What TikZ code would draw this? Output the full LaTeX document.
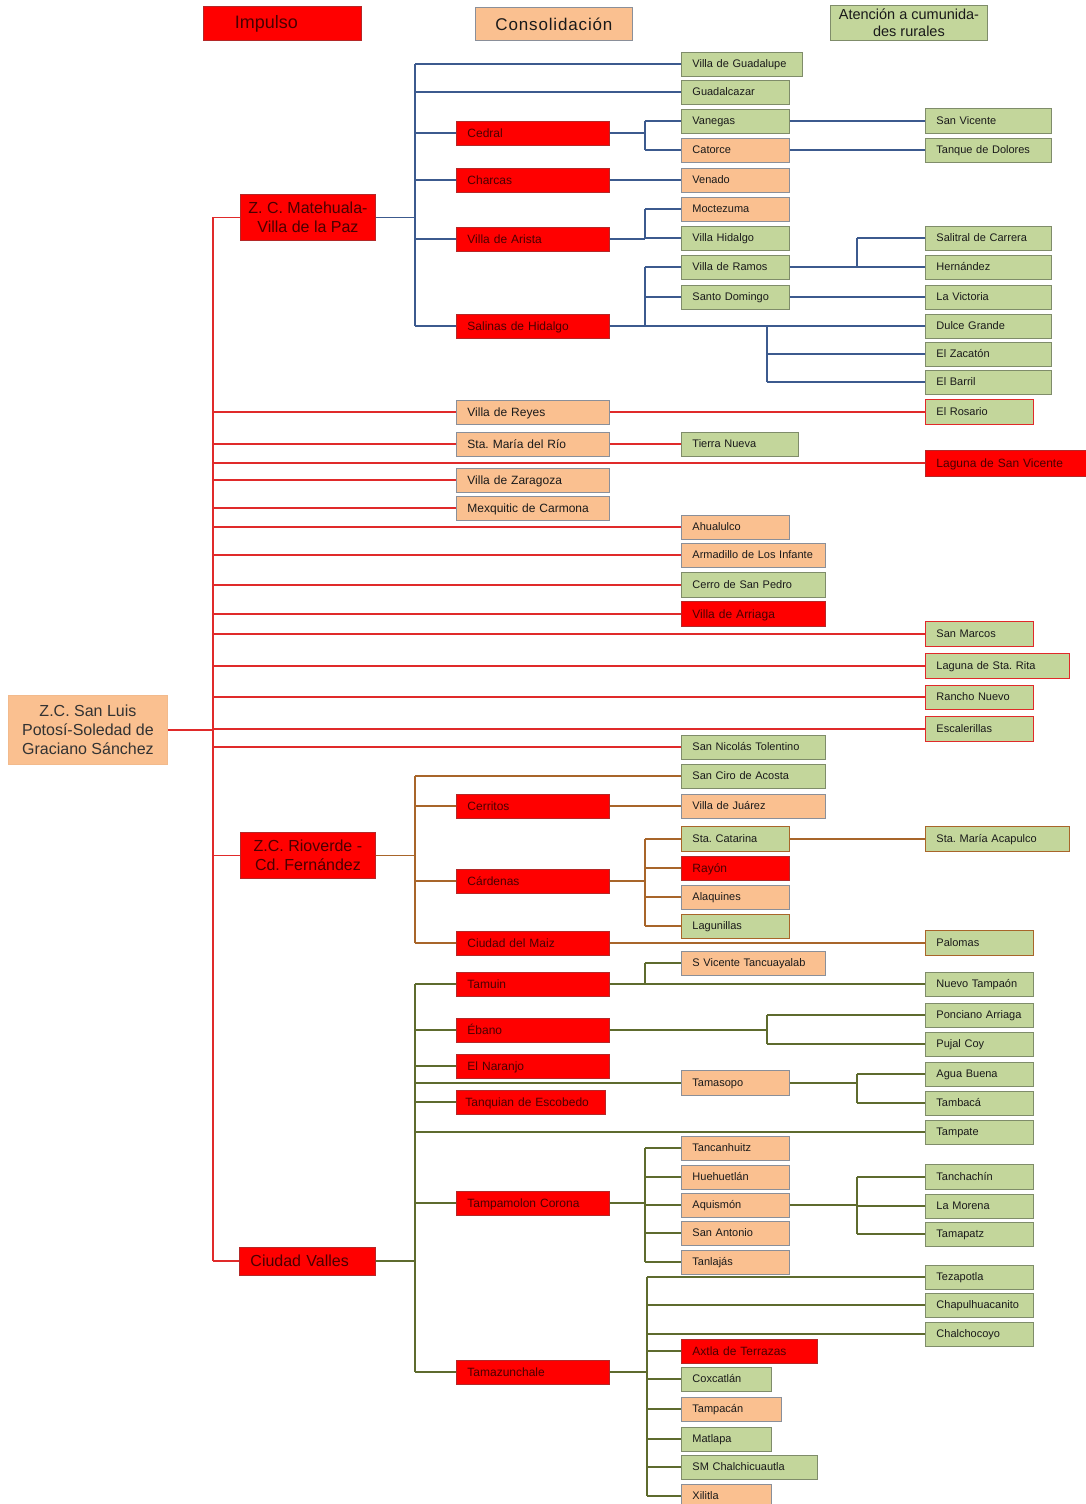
\documentclass[tikz,border=0pt]{standalone}
\usepackage{fontspec}
\setmainfont{Liberation Sans}
\frenchspacing
\definecolor{boxred}{HTML}{FF0000}
\definecolor{boxredd}{HTML}{B42828}
\definecolor{boxor}{HTML}{FAC090}
\definecolor{boxgray}{HTML}{8A8F99}
\definecolor{boxgr}{HTML}{C3D69B}
\definecolor{boxgrd}{HTML}{7F8C6A}
\definecolor{redline}{HTML}{E02A2A}
\definecolor{blueline}{HTML}{3C5A8E}
\definecolor{brownline}{HTML}{A8652A}
\definecolor{oliveline}{HTML}{5E6B2E}
\definecolor{redtxt}{HTML}{4A0000}
\definecolor{darktxt}{HTML}{1A1A1A}
\newcommand\bxn[7]{%
  \pgfmathsetmacro\bxw{#4-#3-22}%
  \node[#2, anchor=west, text width=\bxw pt, minimum height=#6pt] (#1) at (#3,#5) {#7};}
\begin{document}
\begin{tikzpicture}[x=1pt,y=-1pt,
  bx/.style={draw, line width=0.9pt, inner xsep=11pt, inner ysep=0pt, align=left, text=darktxt},
  rd/.style={bx, fill=boxred, draw=boxredd, text=redtxt},
  og/.style={bx, fill=boxor, draw=boxgray},
  gn/.style={bx, fill=boxgr, draw=boxgrd},
  gnr/.style={gn, draw=redline},
  sm/.style={font=\fontsize{11}{13}\selectfont, text height=7.6pt, text depth=0pt},
  md/.style={font=\fontsize{12}{14}\selectfont, text height=8.2pt, text depth=0pt},
  lg/.style={font=\fontsize{16}{19.5}\selectfont},
  rl/.style={draw=redline, line width=1.4pt},
  bl/.style={draw=blueline, line width=1.4pt},
  brl/.style={draw=brownline, line width=1.4pt},
  ol/.style={draw=oliveline, line width=1.4pt}
]
\useasboundingbox (0,0) rectangle (1085,1504);

% headers
\node[rd, anchor=north west, minimum width=158pt, minimum height=34pt, inner xsep=2pt, align=center, font=\fontsize{18}{20}\selectfont] (h1) at (203,6) {Impulso\hspace{32pt}};
\node[og, anchor=north west, minimum width=157pt, minimum height=33pt, inner xsep=2pt, align=center, font=\fontsize{17}{20}\selectfont] (h2) at (475,7) {\addfontfeatures{LetterSpace=5}Consolidación};
\node[gn, anchor=north west, minimum width=157pt, minimum height=35pt, inner xsep=2pt, align=center, font=\fontsize{14.5}{17}\selectfont] (h3) at (830,5) {Atención a cumunida-\\des rurales};

% root and level 1
\node[og, draw=boxor!85!black!20!boxor, anchor=north west, minimum width=159pt, minimum height=69pt, inner xsep=2pt, align=center, font=\fontsize{16}{19}\selectfont, text=black!80] (root) at (8,695) {Z.C. San Luis\\Potosí-Soledad de\\Graciano Sánchez};
\node[rd, anchor=north west, minimum width=135pt, minimum height=46pt, inner xsep=2pt, align=center, lg] (mat) at (240,194) {Z. C. Matehuala-\\Villa de la Paz};
\node[rd, anchor=north west, minimum width=135pt, minimum height=46pt, inner xsep=2pt, align=center, lg] (rio) at (240,832) {Z.C. Rioverde -\\Cd. Fernández};
\bxn{val}{rd,lg,text height=11.5pt,text depth=0pt}{239}{375}{1261}{28}{Ciudad Valles}

% level 2
\bxn{ced}{rd,md}{456}{609}{133}{24}{Cedral}
\bxn{cha}{rd,md}{456}{609}{180}{24}{Charcas}
\bxn{ari}{rd,md}{456}{609}{239}{24}{Villa de Arista}
\bxn{sal}{rd,md}{456}{609}{326}{24}{Salinas de Hidalgo}
\bxn{rey}{og,md}{456}{609}{412}{24}{Villa de Reyes}
\bxn{smr}{og,md}{456}{609}{444}{24}{Sta. María del Río}
\bxn{zar}{og,md}{456}{609}{480}{24}{Villa de Zaragoza}
\bxn{mex}{og,md}{456}{609}{508}{24}{Mexquitic de Carmona}
\bxn{cer}{rd,md}{456}{609}{806}{24}{Cerritos}
\bxn{car}{rd,md}{456}{609}{881}{24}{Cárdenas}
\bxn{cdm}{rd,md}{456}{609}{943}{24}{Ciudad del Maiz}
\bxn{tam}{rd,md}{456}{609}{984}{24}{Tamuin}
\bxn{eba}{rd,md}{456}{609}{1030}{24}{Ébano}
\bxn{nar}{rd,md}{456}{609}{1066}{24}{El Naranjo}
\bxn{tqn}{rd,md,inner xsep=9pt}{456}{609}{1102}{24}{Tanquian de Escobedo}
\bxn{tpc}{rd,md}{456}{609}{1203}{24}{Tampamolon Corona}
\bxn{tzc}{rd,md}{456}{609}{1372}{24}{Tamazunchale}

% level 3
\bxn{vgu}{gn,sm}{681}{802}{64}{24}{Villa de Guadalupe}
\bxn{gua}{gn,sm}{681}{789}{92}{24}{Guadalcazar}
\bxn{van}{gn,sm}{681}{789}{121}{24}{Vanegas}
\bxn{cat}{og,sm}{681}{789}{150}{24}{Catorce}
\bxn{ven}{og,sm}{681}{789}{180}{24}{Venado}
\bxn{moc}{og,sm}{681}{789}{209}{24}{Moctezuma}
\bxn{vhi}{gn,sm}{681}{789}{238}{24}{Villa Hidalgo}
\bxn{vra}{gn,sm}{681}{789}{267}{24}{Villa de Ramos}
\bxn{sdo}{gn,sm}{681}{789}{297}{24}{Santo Domingo}
\bxn{tnu}{gn,sm}{681}{798}{444}{24}{Tierra Nueva}
\bxn{ahu}{og,sm}{681}{789}{527}{24}{Ahualulco}
\bxn{arm}{og,sm}{681}{825}{555}{24}{Armadillo de Los Infante}
\bxn{csp}{gn,sm}{681}{825}{585}{25}{Cerro de San Pedro}
\bxn{vai}{rd,md}{681}{825}{614}{25}{Villa de Arriaga}
\bxn{snt}{gn,sm}{681}{825}{747}{24}{San Nicolás Tolentino}
\bxn{sca}{gn,sm}{681}{825}{776}{24}{San Ciro de Acosta}
\bxn{vju}{og,sm}{681}{825}{806}{24}{Villa de Juárez}
\bxn{sct}{gn,sm,draw=brownline}{681}{789}{839}{25}{Sta. Catarina}
\bxn{ray}{rd,md}{681}{789}{868}{24}{Rayón}
\bxn{ala}{og,sm}{681}{789}{897}{24}{Alaquines}
\bxn{lag}{gn,sm,draw=brownline}{681}{789}{926}{24}{Lagunillas}
\bxn{svt}{og,sm}{681}{825}{963}{24}{S Vicente Tancuayalab}
\bxn{tms}{og,sm}{681}{789}{1083}{25}{Tamasopo}
\bxn{tcz}{og,sm}{681}{789}{1148}{24}{Tancanhuitz}
\bxn{hue}{og,sm}{681}{789}{1177}{24}{Huehuetlán}
\bxn{aqu}{og,sm}{681}{789}{1205}{24}{Aquismón}
\bxn{sna}{og,sm}{681}{789}{1233}{24}{San Antonio}
\bxn{tlj}{og,sm}{681}{789}{1262}{24}{Tanlajás}
\bxn{axt}{rd,md}{681}{817}{1351}{24}{Axtla de Terrazas}
\bxn{cox}{gn,sm}{681}{771}{1379}{24}{Coxcatlán}
\bxn{tpn}{og,sm}{681}{781}{1409}{24}{Tampacán}
\bxn{mtl}{gn,sm}{681}{771}{1439}{24}{Matlapa}
\bxn{smc}{gn,sm}{681}{817}{1467}{24}{SM Chalchicuautla}
\bxn{xil}{og,sm}{681}{771}{1496}{24}{Xilitla}

% level 4
\bxn{svi}{gn,sm}{925}{1051}{121}{25}{San Vicente}
\bxn{tdo}{gn,sm}{925}{1051}{150}{24}{Tanque de Dolores}
\bxn{slc}{gn,sm}{925}{1051}{238}{24}{Salitral de Carrera}
\bxn{her}{gn,sm}{925}{1051}{267}{24}{Hernández}
\bxn{lvi}{gn,sm}{925}{1051}{297}{24}{La Victoria}
\bxn{dgr}{gn,sm}{925}{1051}{326}{24}{Dulce Grande}
\bxn{zac}{gn,sm}{925}{1051}{354}{24}{El Zacatón}
\bxn{bar}{gn,sm}{925}{1051}{382}{24}{El Barril}
\bxn{ros}{gnr,sm}{925}{1033}{412}{25}{El Rosario}
\bxn{lsv}{rd,md}{925}{1092}{463}{26}{Laguna de San Vicente}
\bxn{sma}{gnr,sm}{925}{1033}{634}{25}{San Marcos}
\bxn{lsr}{gnr,sm}{925}{1069}{666}{25}{Laguna de Sta. Rita}
\bxn{rnu}{gnr,sm}{925}{1033}{697}{24}{Rancho Nuevo}
\bxn{esc}{gnr,sm}{925}{1033}{729}{25}{Escalerillas}
\bxn{sac}{gn,sm,draw=brownline}{925}{1069}{839}{25}{Sta. María Acapulco}
\bxn{pal}{gn,sm,draw=brownline}{925}{1033}{943}{25}{Palomas}
\bxn{ntp}{gn,sm}{925}{1033}{984}{24}{Nuevo Tampaón}
\bxn{pon}{gn,sm}{925}{1033}{1015}{24}{Ponciano Arriaga}
\bxn{puj}{gn,sm}{925}{1033}{1044}{24}{Pujal Coy}
\bxn{agb}{gn,sm}{925}{1033}{1074}{24}{Agua Buena}
\bxn{tbc}{gn,sm}{925}{1033}{1103}{24}{Tambacá}
\bxn{tpt}{gn,sm}{925}{1033}{1132}{24}{Tampate}
\bxn{tch}{gn,sm}{925}{1033}{1177}{25}{Tanchachín}
\bxn{mor}{gn,sm}{925}{1033}{1206}{24}{La Morena}
\bxn{tpz}{gn,sm}{925}{1033}{1234}{24}{Tamapatz}
\bxn{tez}{gn,sm}{925}{1033}{1277}{24}{Tezapotla}
\bxn{chp}{gn,sm}{925}{1033}{1305}{24}{Chapulhuacanito}
\bxn{chl}{gn,sm}{925}{1033}{1334}{24}{Chalchocoyo}

% junction columns
\coordinate (T) at (213,0);
\coordinate (B) at (415,0);
\coordinate (C1) at (645,0);
\coordinate (C2) at (767,0);
\coordinate (C3) at (857,0);
\coordinate (C4) at (647,0);

% red trunk
\draw[rl, line width=2.6pt] (root.east) -- (T |- root.east);
\draw[rl] (T |- mat.west) -- (T |- val.west);
\foreach \n in {mat,rio,val,rey,smr,lsv,zar,mex,ahu,arm,csp,vai,sma,lsr,rnu,esc,snt}
  \draw[rl] (T |- \n.west) -- (\n.west);
\draw[rl] (rey.east) -- (ros.west);
\draw[rl] (smr.east) -- (tnu.west);

% blue group
\draw[bl] (mat.east) -- (B |- mat.east);
\draw[bl] (B |- vgu.west) -- (B |- sal.west);
\foreach \n in {vgu,gua,ced,cha,ari,sal}
  \draw[bl] (B |- \n.west) -- (\n.west);
\draw[bl] (ced.east) -- (C1 |- ced.east);
\draw[bl] (C1 |- van.west) -- (C1 |- cat.west);
\draw[bl] (C1 |- van.west) -- (van.west);
\draw[bl] (C1 |- cat.west) -- (cat.west);
\draw[bl] (van.east) -- (svi.west);
\draw[bl] (cat.east) -- (tdo.west);
\draw[bl] (cha.east) -- (ven.west);
\draw[bl] (ari.east) -- (C1 |- ari.east);
\draw[bl] (C1 |- moc.west) -- (C1 |- ari.east);
\draw[bl] (C1 |- moc.west) -- (moc.west);
\draw[bl] (C1 |- vhi.west) -- (vhi.west);
\draw[bl] (sal.east) -- (dgr.west);
\draw[bl] (C1 |- vra.west) -- (C1 |- sal.east);
\draw[bl] (C1 |- vra.west) -- (vra.west);
\draw[bl] (C1 |- sdo.west) -- (sdo.west);
\draw[bl] (C2 |- sal.east) -- (C2 |- bar.west);
\draw[bl] (C2 |- zac.west) -- (zac.west);
\draw[bl] (C2 |- bar.west) -- (bar.west);
\draw[bl] (vra.east) -- (her.west);
\draw[bl] (C3 |- slc.west) -- (C3 |- her.west);
\draw[bl] (C3 |- slc.west) -- (slc.west);
\draw[bl] (sdo.east) -- (lvi.west);

% brown group
\draw[brl] (rio.east) -- (B |- rio.east);
\draw[brl] (B |- sca.west) -- (B |- cdm.west);
\foreach \n in {sca,cer,car,cdm}
  \draw[brl] (B |- \n.west) -- (\n.west);
\draw[brl] (cer.east) -- (vju.west);
\draw[brl] (car.east) -- (C1 |- car.east);
\draw[brl] (C1 |- sct.west) -- (C1 |- lag.west);
\foreach \n in {sct,ray,ala,lag}
  \draw[brl] (C1 |- \n.west) -- (\n.west);
\draw[brl] (sct.east) -- (sac.west);
\draw[brl] (cdm.east) -- (pal.west);

% olive group
\draw[ol] (val.east) -- (B |- val.east);
\draw[ol] (B |- tam.west) -- (B |- tzc.west);
\foreach \n in {tam,eba,nar,tqn,tpc,tzc,tms,tpt}
  \draw[ol] (B |- \n.west) -- (\n.west);
\draw[ol] (tam.east) -- (ntp.west);
\draw[ol] (C1 |- svt.west) -- (C1 |- tam.east);
\draw[ol] (C1 |- svt.west) -- (svt.west);
\draw[ol] (eba.east) -- (C2 |- eba.east);
\draw[ol] (C2 |- pon.west) -- (C2 |- puj.west);
\draw[ol] (C2 |- pon.west) -- (pon.west);
\draw[ol] (C2 |- puj.west) -- (puj.west);
\draw[ol] (tms.east) -- (C3 |- tms.east);
\draw[ol] (C3 |- agb.west) -- (C3 |- tbc.west);
\draw[ol] (C3 |- agb.west) -- (agb.west);
\draw[ol] (C3 |- tbc.west) -- (tbc.west);
\draw[ol] (tpc.east) -- (C1 |- tpc.east);
\draw[ol] (C1 |- tcz.west) -- (C1 |- tlj.west);
\foreach \n in {tcz,hue,aqu,sna,tlj}
  \draw[ol] (C1 |- \n.west) -- (\n.west);
\draw[ol] (aqu.east) -- (C3 |- aqu.east);
\draw[ol] (C3 |- tch.west) -- (C3 |- tpz.west);
\foreach \n in {tch,mor,tpz}
  \draw[ol] (C3 |- \n.west) -- (\n.west);
\draw[ol] (tzc.east) -- (C4 |- tzc.east);
\draw[ol] (C4 |- tez.west) -- (C4 |- xil.west);
\foreach \n in {tez,chp,chl,axt,cox,tpn,mtl,smc,xil}
  \draw[ol] (C4 |- \n.west) -- (\n.west);
\end{tikzpicture}
\end{document}
